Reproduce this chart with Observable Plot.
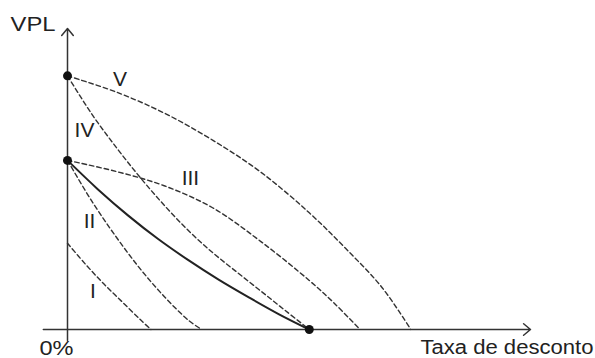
<!DOCTYPE html>
<html>
<head>
<meta charset="utf-8">
<script src="https://cdn.jsdelivr.net/npm/d3@7"></script>
<script src="https://cdn.jsdelivr.net/npm/@observablehq/plot@0.6"></script>
<style>
  html, body { margin: 0; padding: 0; background: #fff; }
  svg { display: block; }
</style>
</head>
<body>
<script>
// Taxa de desconto (%) vs VPL
const solidX = [0, 2.5, 5, 7.5, 10, 12.5, 15, 17.5, 20];
const solidY = [100, 83, 67.5, 53.5, 41, 29.5, 19, 9, 0];

const curveIX = [0, 1.5, 3, 4.5, 6, 6.9];
const curveIY = [51, 38.5, 27, 16.5, 6, 0];

const curveIIX = [0, 2, 4, 6, 8, 10, 11.1];
const curveIIY = [100, 76, 55, 36, 19.5, 5.5, 0];

const curveIIIX = [0, 4, 8, 12, 16, 20, 22, 24.2];
const curveIIIY = [100, 93.5, 85, 72, 52, 29, 16, 0];

const curveIVX = [0, 2, 4, 6, 8, 10, 12, 14, 16, 18, 20];
const curveIVY = [150, 127.5, 108, 90, 73.5, 58.5, 45.5, 34, 22.7, 11.3, 0];

const curveVX = [0, 4, 8, 12, 16, 20, 23, 26, 28.4];
const curveVY = [150, 140.5, 128, 112, 93, 69, 48, 25, 0];

const dotX = [0, 0, 20];
const dotY = [150, 100, 0];

const curveLabels = ["V", "IV", "III", "II", "I"];
const curveLabelX = [4.34, 1.41, 10.17, 1.82, 2.1];
const curveLabelY = [148.2, 117.7, 89.2, 63.9, 22.8];

const axisLabels = ["VPL", "0%", "Taxa de desconto"];
const axisLabelX = [-2.85, -0.91, 36.35];
const axisLabelY = [180.1, -11.5, -10.6];

const xMax = 38.3;
const yMax = 178;

const toPts = (xs, ys) => xs.map((x, i) => ({x, y: ys[i]}));
const dashed = [
  toPts(curveIX, curveIY),
  toPts(curveIIX, curveIIY),
  toPts(curveIIIX, curveIIIY),
  toPts(curveIVX, curveIVY),
  toPts(curveVX, curveVY)
];

const font = "'Liberation Sans', Arial, Helvetica, sans-serif";

const marks = [];
for (const pts of dashed) {
  marks.push(Plot.line(pts, {
    x: "x", y: "y", curve: "catmull-rom",
    stroke: "#333", strokeWidth: 1.4, strokeDasharray: "4.5,3"
  }));
}
marks.push(Plot.line(toPts(solidX, solidY), {
  x: "x", y: "y", curve: "catmull-rom", stroke: "#222", strokeWidth: 2
}));
// axes with arrows
marks.push(Plot.arrow([{x1: -2.0, y1: 0, x2: xMax, y2: 0}], {
  x1: "x1", y1: "y1", x2: "x2", y2: "y2",
  stroke: "#333", strokeWidth: 1.5, headLength: 9, headAngle: 80
}));
marks.push(Plot.arrow([{x1: 0, y1: -6.5, x2: 0, y2: yMax}], {
  x1: "x1", y1: "y1", x2: "x2", y2: "y2",
  stroke: "#333", strokeWidth: 1.5, headLength: 9, headAngle: 80
}));
marks.push(Plot.dot(toPts(dotX, dotY), {x: "x", y: "y", r: 4.5, fill: "#111", stroke: "none"}));
marks.push(Plot.text(curveLabels.map((t, i) => ({t, x: curveLabelX[i], y: curveLabelY[i]})), {
  x: "x", y: "y", text: "t", fontSize: 21, fill: "#222", textAnchor: "middle", lineAnchor: "middle"
}));
marks.push(Plot.text(axisLabels.map((t, i) => ({t, x: axisLabelX[i], y: axisLabelY[i]})), {
  x: "x", y: "y", text: "t", fontSize: 20, fill: "#222", textAnchor: "middle", lineAnchor: "middle"
}));

const chart = Plot.plot({
  width: 595,
  height: 358,
  marginLeft: 67,
  marginRight: 65,
  marginTop: 28,
  marginBottom: 29,
  x: {domain: [0, xMax], axis: null},
  y: {domain: [0, yMax], axis: null},
  style: {fontFamily: font, background: "#fff", overflow: "visible"},
  marks
});

// stretch axis titles to the widths seen in the picture
const widths = {"VPL": 45, "0%": 34, "Taxa de desconto": 173};
d3.select(chart).selectAll("text").each(function() {
  const t = this.textContent;
  if (widths[t]) {
    this.setAttribute("textLength", widths[t]);
    this.setAttribute("lengthAdjust", "spacingAndGlyphs");
  }
});

document.body.appendChild(chart);
</script>
</body>
</html>
